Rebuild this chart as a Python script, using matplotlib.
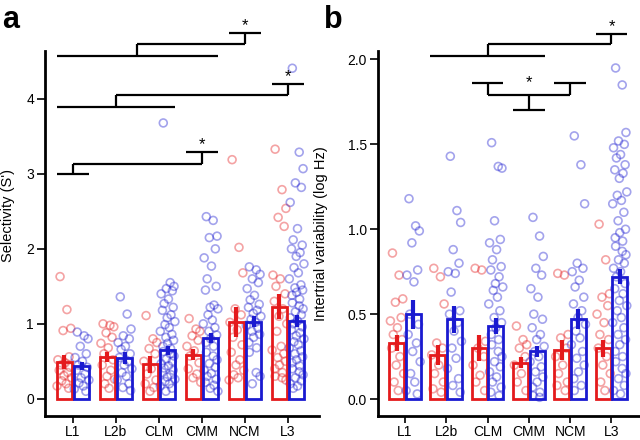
import numpy as np
import matplotlib
matplotlib.use("Agg")
import matplotlib.pyplot as plt

plt.rcParams['font.family'] = ['Liberation Sans', 'DejaVu Sans']

regions = ["L1", "L2b", "CLM", "CMM", "NCM", "L3"]

# panel a: selectivity (S')
sel_red_mean = [0.49, 0.56, 0.46, 0.59, 1.02, 1.23]
sel_red_sem = [0.09, 0.07, 0.11, 0.07, 0.20, 0.17]
sel_blue_mean = [0.44, 0.55, 0.65, 0.81, 1.03, 1.04]
sel_blue_sem = [0.05, 0.08, 0.06, 0.07, 0.07, 0.08]

sel_red_pts = [
    [1.63, 1.19, 0.94, 0.91, 0.56, 0.52, 0.48, 0.45, 0.42, 0.38, 0.35, 0.31, 0.28, 0.24, 0.20, 0.17, 0.14],
    [1.00, 0.98, 0.96, 0.88, 0.82, 0.74, 0.68, 0.60, 0.52, 0.45, 0.38, 0.30, 0.26, 0.20, 0.14],
    [1.11, 0.80, 0.75, 0.67, 0.60, 0.50, 0.40, 0.33, 0.25, 0.20, 0.15, 0.10],
    [1.07, 0.93, 0.90, 0.84, 0.78, 0.70, 0.64, 0.57, 0.48, 0.40, 0.33, 0.28, 0.22],
    [3.19, 2.02, 1.68, 1.20, 1.12, 1.02, 0.92, 0.82, 0.72, 0.62, 0.52, 0.45, 0.38, 0.32, 0.28, 0.25],
    [3.33, 2.79, 2.54, 2.42, 2.30, 1.65, 1.60, 1.50, 1.40, 1.30, 1.20, 1.10, 1.00, 0.90, 0.70, 0.65,
     0.60, 0.55, 0.50, 0.45, 0.40, 0.35, 0.30, 0.28, 0.25],
]
sel_blue_pts = [
    [0.89, 0.84, 0.80, 0.70, 0.60, 0.55, 0.50, 0.45, 0.42, 0.38, 0.33, 0.28, 0.25, 0.21, 0.17, 0.13, 0.10],
    [1.36, 1.13, 0.93, 0.84, 0.80, 0.75, 0.70, 0.66, 0.60, 0.55, 0.50, 0.45, 0.40, 0.35, 0.30, 0.25,
     0.20, 0.15, 0.11],
    [3.68, 1.55, 1.50, 1.47, 1.44, 1.40, 1.33, 1.27, 1.22, 1.18, 1.12, 1.08, 1.03, 0.99, 0.95, 0.90,
     0.86, 0.82, 0.78, 0.74, 0.70, 0.67, 0.63, 0.60, 0.57, 0.53, 0.50, 0.47, 0.44, 0.41, 0.38, 0.35,
     0.32, 0.29, 0.26, 0.23, 0.20, 0.17, 0.14, 0.10],
    [2.43, 2.38, 2.17, 2.15, 2.00, 1.88, 1.77, 1.60, 1.50, 1.45, 1.25, 1.22, 1.20, 1.12, 1.05, 1.00,
     0.95, 0.90, 0.85, 0.80, 0.75, 0.70, 0.62, 0.57, 0.52, 0.47, 0.42, 0.38, 0.34, 0.30, 0.26, 0.22,
     0.18, 0.14, 0.10],
    [1.76, 1.72, 1.66, 1.60, 1.55, 1.47, 1.38, 1.32, 1.26, 1.22, 1.18, 1.14, 1.10, 1.06, 1.02, 0.98,
     0.94, 0.90, 0.86, 0.82, 0.75, 0.68, 0.62, 0.35, 0.30, 0.20],
    [4.41, 3.29, 3.07, 2.88, 2.82, 2.62, 2.27, 2.12, 2.05, 2.00, 1.95, 1.90, 1.80, 1.75, 1.68, 1.60,
     1.52, 1.48, 1.45, 1.42, 1.38, 1.33, 1.28, 1.24, 1.20, 1.16, 1.12, 1.08, 1.04, 1.00, 0.96, 0.92,
     0.88, 0.84, 0.80, 0.76, 0.72, 0.68, 0.64, 0.60, 0.56, 0.52, 0.48, 0.44, 0.40, 0.36, 0.32, 0.28,
     0.24, 0.20, 0.17, 0.14],
]

# panel b: intertrial variability (log Hz)
var_red_mean = [0.33, 0.26, 0.30, 0.215, 0.29, 0.30]
var_red_sem = [0.046, 0.058, 0.078, 0.032, 0.06, 0.05]
var_blue_mean = [0.50, 0.47, 0.43, 0.28, 0.47, 0.72]
var_blue_sem = [0.086, 0.08, 0.045, 0.03, 0.06, 0.045]

var_red_pts = [
    [0.86, 0.73, 0.59, 0.57, 0.48, 0.46, 0.42, 0.38, 0.35, 0.30, 0.25, 0.20, 0.15, 0.10, 0.05],
    [0.77, 0.72, 0.56, 0.33, 0.30, 0.26, 0.20, 0.15, 0.10, 0.06, 0.04],
    [0.77, 0.76, 0.34, 0.30, 0.25, 0.20, 0.14, 0.10, 0.05],
    [0.43, 0.35, 0.32, 0.30, 0.25, 0.20, 0.15, 0.10, 0.05],
    [0.74, 0.73, 0.38, 0.36, 0.30, 0.25, 0.20, 0.15, 0.10, 0.08, 0.05],
    [1.03, 0.82, 0.62, 0.60, 0.55, 0.50, 0.45, 0.38, 0.35, 0.30, 0.25, 0.20, 0.15, 0.10, 0.05],
]
var_blue_pts = [
    [1.18, 1.02, 0.99, 0.92, 0.76, 0.73, 0.69, 0.50, 0.44, 0.38, 0.33, 0.28, 0.22, 0.15, 0.10, 0.05, 0.03],
    [1.43, 1.11, 1.04, 0.88, 0.80, 0.75, 0.74, 0.63, 0.52, 0.50, 0.45, 0.40, 0.34, 0.30, 0.24, 0.18,
     0.12, 0.08, 0.04],
    [1.51, 1.37, 1.36, 1.05, 0.94, 0.92, 0.88, 0.82, 0.78, 0.76, 0.72, 0.68, 0.66, 0.64, 0.60, 0.56,
     0.52, 0.48, 0.45, 0.42, 0.38, 0.35, 0.32, 0.28, 0.25, 0.22, 0.19, 0.16, 0.13, 0.10, 0.07, 0.04, 0.02],
    [1.07, 0.96, 0.84, 0.77, 0.73, 0.65, 0.60, 0.50, 0.47, 0.42, 0.38, 0.35, 0.31, 0.28, 0.25, 0.22,
     0.19, 0.16, 0.13, 0.10, 0.07, 0.04, 0.02, 0.01],
    [1.55, 1.38, 1.15, 0.80, 0.77, 0.75, 0.70, 0.66, 0.60, 0.56, 0.52, 0.48, 0.44, 0.40, 0.36, 0.32,
     0.28, 0.24, 0.20, 0.16, 0.12, 0.08, 0.05],
    [1.95, 1.85, 1.57, 1.52, 1.50, 1.48, 1.44, 1.42, 1.38, 1.35, 1.33, 1.30, 1.22, 1.20, 1.17, 1.15,
     1.10, 1.05, 1.00, 0.98, 0.95, 0.93, 0.90, 0.87, 0.85, 0.82, 0.80, 0.77, 0.75, 0.72, 0.68, 0.65,
     0.62, 0.58, 0.55, 0.52, 0.48, 0.45, 0.42, 0.38, 0.35, 0.32, 0.28, 0.25, 0.22, 0.18, 0.15, 0.12,
     0.08, 0.05, 0.03],
]

RED = '#e41a1c'
BLUE = '#1a1ad0'
OFF = 0.2
BW = 0.36
# hand-placed horizontal scatter offsets, reused cyclically
JIT = [-0.10, 0.06, 0.15, -0.03, 0.11, -0.15, 0.02, -0.08, 0.13, -0.12,
       0.08, -0.01, 0.17, -0.06, 0.04, -0.17, 0.10, -0.04, 0.14, 0.00, -0.11, 0.07]


def draw_panel(ax, rmean, rsem, bmean, bsem, rpts, bpts):
    x = np.arange(len(regions))
    for i in range(len(regions)):
        for pts, sign, col in ((rpts[i], -1, RED), (bpts[i], 1, BLUE)):
            xs = [i + sign * OFF + JIT[k % len(JIT)] for k in range(len(pts))]
            ax.scatter(xs, pts, s=32, facecolors='none', edgecolors=col,
                       linewidths=1.2, alpha=0.4, zorder=2)
    ax.bar(x - OFF, rmean, BW, facecolor='none', edgecolor=RED, linewidth=2.0, zorder=3)
    ax.bar(x + OFF, bmean, BW, facecolor='none', edgecolor=BLUE, linewidth=2.0, zorder=3)
    ax.errorbar(x - OFF, rmean, yerr=rsem, fmt='none', ecolor=RED, elinewidth=3, capsize=0, zorder=4)
    ax.errorbar(x + OFF, bmean, yerr=bsem, fmt='none', ecolor=BLUE, elinewidth=3, capsize=0, zorder=4)
    ax.set_xticks(x)
    ax.set_xticklabels(regions)
    for s in ('top', 'right'):
        ax.spines[s].set_visible(False)
    for s in ('left', 'bottom'):
        ax.spines[s].set_linewidth(2.0)
    ax.tick_params(axis='y', length=6, width=1.2, pad=2, labelsize=10)
    ax.tick_params(axis='x', length=5, width=1.2, pad=1.5, labelsize=10)


def span(i0, i1):
    return (i0 - OFF - BW / 2, i1 + OFF + BW / 2)


def hline(ax, x0, x1, y):
    ax.plot([x0, x1], [y, y], color='k', lw=1.6, clip_on=False, solid_capstyle='butt')


def vline(ax, x, y0, y1):
    ax.plot([x, x], [y0, y1], color='k', lw=1.6, clip_on=False, solid_capstyle='butt')


def step_bracket(ax, left, right, yl, yj, yr):
    l0, l1 = span(*left)
    r0, r1 = span(*right)
    lc, rc = (l0 + l1) / 2, (r0 + r1) / 2
    hline(ax, l0, l1, yl)
    vline(ax, lc, yl, yj)
    hline(ax, lc, rc, yj)
    vline(ax, rc, yj, yr)
    hline(ax, r0, r1, yr)
    ax.text(rc, yr, '*', ha='center', va='bottom', fontsize=12)


fig = plt.figure(figsize=(6.4, 4.4), dpi=100)
axa = fig.add_axes([45 / 640, 24 / 440, 274 / 640, 365 / 440])
axb = fig.add_axes([378 / 640, 24 / 440, 262 / 640, 365 / 440])

draw_panel(axa, sel_red_mean, sel_red_sem, sel_blue_mean, sel_blue_sem, sel_red_pts, sel_blue_pts)
axa.set_xlim(-0.65, 5.72)
axa.set_ylim(-0.23, 4.64)
axa.set_yticks([0, 1, 2, 3, 4])
axa.set_ylabel("Selectivity (S')", fontsize=10.5)
axa.yaxis.set_label_coords(-0.11, 0.55)
step_bracket(axa, (0, 3), (4, 4), 4.57, 4.73, 4.88)
step_bracket(axa, (0, 2), (5, 5), 3.89, 4.05, 4.20)
step_bracket(axa, (0, 0), (3, 3), 3.00, 3.13, 3.29)

draw_panel(axb, var_red_mean, var_red_sem, var_blue_mean, var_blue_sem, var_red_pts, var_blue_pts)
axb.set_xlim(-0.65, 5.69)
axb.set_ylim(-0.10, 2.05)
axb.set_yticks([0.0, 0.5, 1.0, 1.5, 2.0])
axb.set_yticklabels(['0.0', '0.5', '1.0', '1.5', '2.0'])
axb.set_ylabel("Intertrial variability (log Hz)", fontsize=10.5)
axb.yaxis.set_label_coords(-0.19, 0.5)
step_bracket(axb, (1, 3), (5, 5), 2.02, 2.09, 2.15)
# CLM and NCM vs CMM
for g in (2, 4):
    a0, a1 = span(g, g)
    hline(axb, a0, a1, 1.86)
    vline(axb, g, 1.86, 1.79)
hline(axb, 2, 4, 1.79)
vline(axb, 3, 1.79, 1.70)
c0, c1 = span(3, 3)
hline(axb, c0, c1, 1.70)
axb.text(3, 1.82, '*', ha='center', va='bottom', fontsize=12)

fig.text(2 / 640, 1 - 28 / 440, 'a', fontsize=22, fontweight='bold')
fig.text(324 / 640, 1 - 28 / 440, 'b', fontsize=22, fontweight='bold')

fig.savefig('out.png', dpi=100)
